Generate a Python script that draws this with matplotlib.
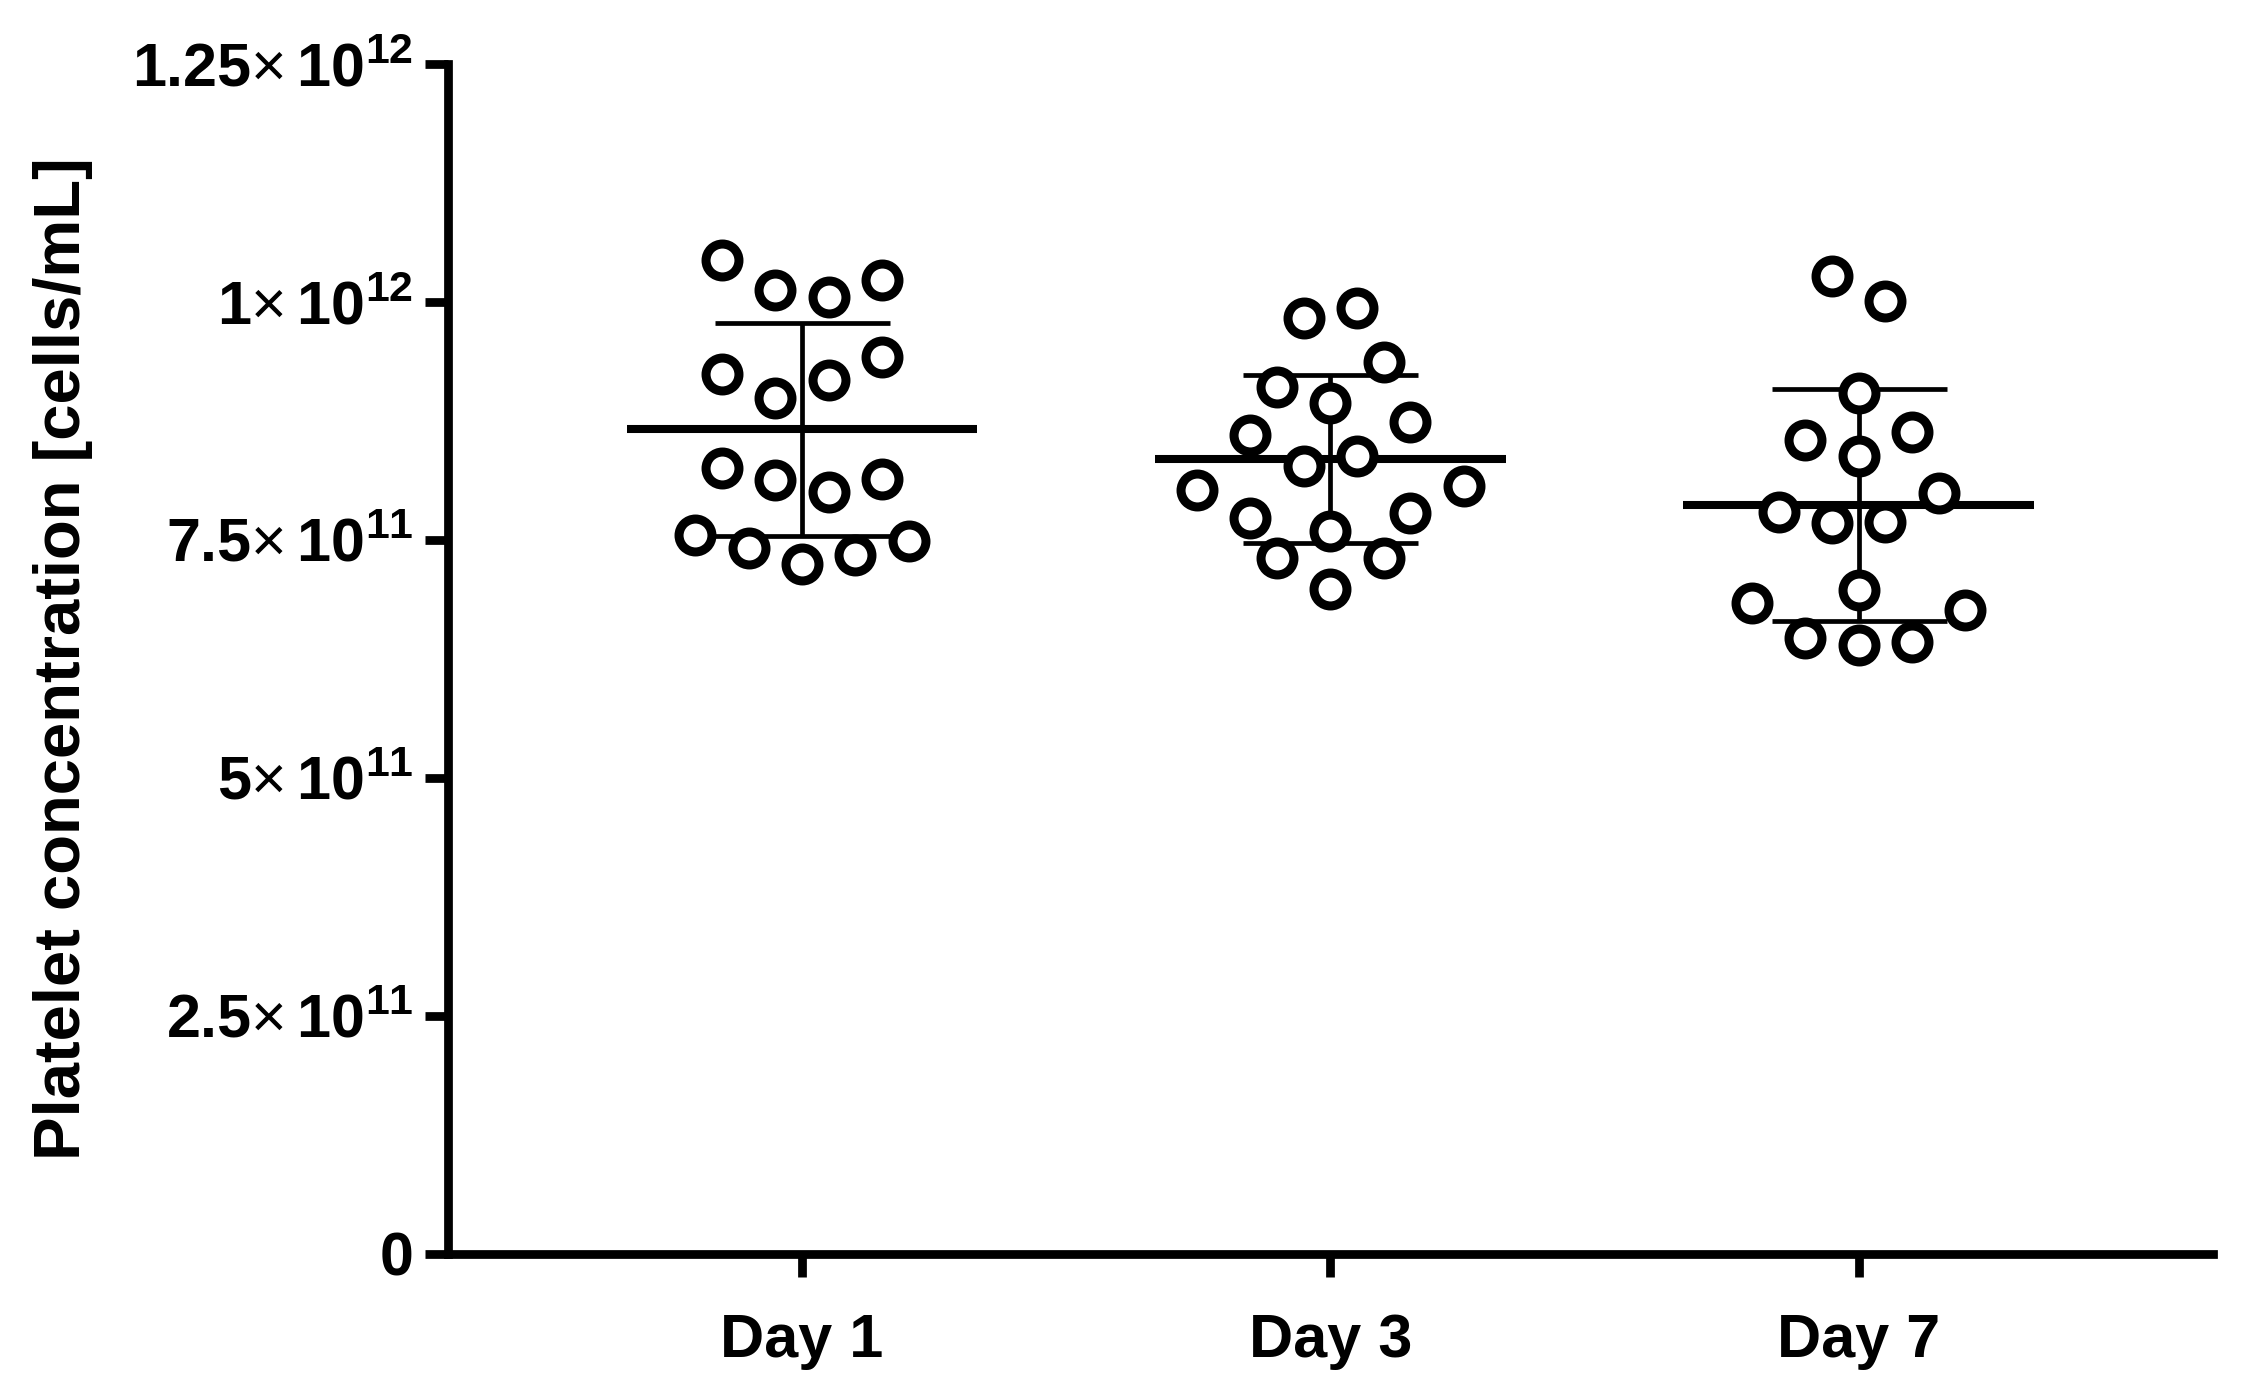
import numpy as np
import matplotlib
matplotlib.use('Agg')
import matplotlib.pyplot as plt
from matplotlib import font_manager
from matplotlib.ticker import FixedLocator, FuncFormatter

groups = ['Day 1', 'Day 3', 'Day 7']

# platelet concentration, in 10^12 cells/mL
day1 = [0.725, 0.734, 0.742, 0.749, 0.755, 0.800, 0.813, 0.814, 0.826,
        0.918, 0.899, 0.942, 0.924, 1.005, 1.013, 1.023, 1.044]
day3 = [0.699, 0.731, 0.731, 0.759, 0.778, 0.773, 0.807, 0.803, 0.838,
        0.828, 0.874, 0.860, 0.894, 0.937, 0.911, 0.994, 0.983]
day7 = [0.640, 0.643, 0.647, 0.676, 0.684, 0.697, 0.769, 0.768, 0.799,
        0.779, 0.838, 0.863, 0.855, 0.904, 1.001, 1.027]

yticks = [0, 2.5e11, 5e11, 7.5e11, 1e12, 1.25e12]

names = {f.name for f in font_manager.fontManager.ttflist}
plt.rcParams['font.family'] = ['Liberation Sans', 'DejaVu Sans']
plt.rcParams['mathtext.fontset'] = 'custom'
plt.rcParams['mathtext.rm'] = 'Liberation Sans'
plt.rcParams['mathtext.bf'] = 'Liberation Sans:bold'

if 'Liberation Sans Narrow' in names:
    label_font, label_size, label_x = 'Liberation Sans Narrow', 57, -0.192
else:
    label_font, label_size, label_x = 'Liberation Sans', 47, -0.201

fig = plt.figure(figsize=(22.42, 14.0), dpi=100)
ax = fig.add_axes([0.1998, 0.1043, 0.7872, 0.85])
ax.set_xlim(0.33, 3.67)
ax.set_ylim(0, 1.25e12)

px = fig.dpi / 72.0
sx = ax.transData.transform((1, 0))[0] - ax.transData.transform((0, 0))[0]
sy = ax.transData.transform((0, 1e12))[1] - ax.transData.transform((0, 0))[1]


def swarm(vals, step=19.2 * px, gap=33.5 * px, row_h=0.05):
    # GraphPad-like layout: rows of close values, spread around the centre
    vals = np.asarray(vals)
    order = np.argsort(vals, kind='stable')
    rows = []
    for i in order:
        if rows and vals[i] - vals[rows[-1][0]] < row_h:
            rows[-1].append(i)
        else:
            rows.append([i])
    slot = np.zeros(len(vals), int)
    done = []

    def hits(k, v):
        for j in done:
            if np.hypot((k - slot[j]) * step, (v - vals[j]) * sy) < gap:
                return True
        return False

    for row in rows:
        row = sorted(row)
        n = len(row)
        last = {1: 0 if n % 2 else -1, -1: 0 if n % 2 else -1}
        side = 1
        for m, i in enumerate(row):
            if n % 2 and m == 0:
                k = 0
            else:
                k = side * (last[side] + 2)
                while hits(k, vals[i]):
                    k += side
                last[side] = abs(k)
                side = -side
            slot[i] = k
            done.append(i)
    return slot * step / sx


for pos, vals in zip([1, 2, 3], [day1, day3, day7]):
    v = np.array(vals)
    off = swarm(v)
    m, sd = v.mean() * 1e12, v.std(ddof=1) * 1e12
    ax.errorbar(pos, m, yerr=sd, fmt='none', ecolor='black', elinewidth=3.4,
                capsize=63, capthick=3.4, zorder=1)
    ax.hlines(m, pos - 0.332, pos + 0.332, color='black', lw=5.8, zorder=2)
    ax.plot(pos + off, v * 1e12, 'o', ms=23.7, mew=6.5, mfc='white',
            mec='black', ls='none', zorder=3)


def fmt(y, _):
    if y == 0:
        return '0'
    e = int(np.floor(np.log10(y)))
    return r'%g$\times\,$10$^{\mathbf{%d}}$' % (y / 10 ** e, e)


ax.yaxis.set_major_locator(FixedLocator(yticks))
ax.yaxis.set_major_formatter(FuncFormatter(fmt))
ax.set_xticks([1, 2, 3])
ax.set_xticklabels(groups)

for s in ['top', 'right']:
    ax.spines[s].set_visible(False)
for s in ['left', 'bottom']:
    ax.spines[s].set_linewidth(6.3)

ax.tick_params(axis='both', direction='out', length=16.5, width=6.3)
ax.tick_params(axis='y', pad=8.5, labelsize=44)
ax.tick_params(axis='x', pad=26, labelsize=44)
for t in ax.get_xticklabels() + ax.get_yticklabels():
    t.set_fontweight('bold')

ax.set_ylabel('Platelet concentration [cells/mL]', fontsize=label_size,
              fontweight='bold', family=label_font)
ax.yaxis.set_label_coords(label_x, 0.5)

fig.savefig('out.png', dpi=100)
